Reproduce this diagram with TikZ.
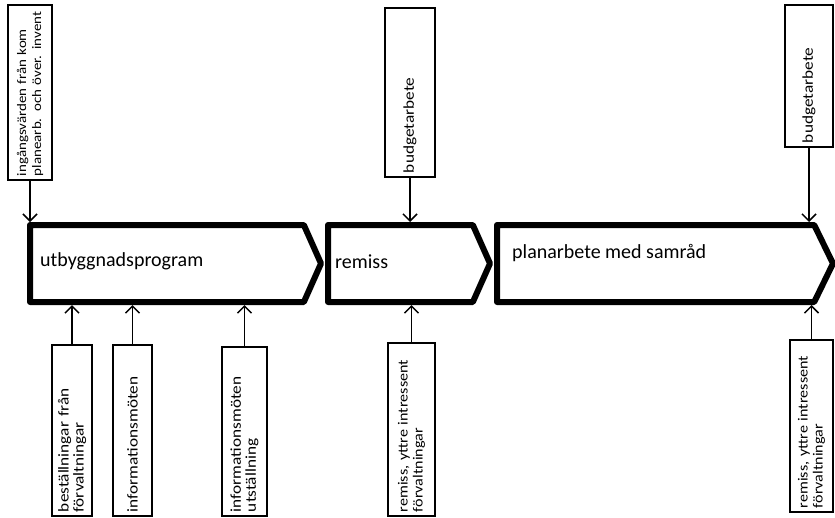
\documentclass[tikz,border=0pt]{standalone}
\usepackage{fontspec}
\setmainfont{Carlito}
\newfontfamily\boxfont{Carlito}[FakeStretch=1.15]
\usetikzlibrary{positioning}
\usetikzlibrary{shapes.symbols}
\usetikzlibrary{arrows.meta}
\tikzset{
  % thick chevron for one phase of the work
  phase/.style={
    draw,signal,signal to=east,anchor=west,
    line width=6pt,line join=round,
    minimum height=77pt,inner sep=0pt,
  },
  phaselabel/.style={font=\fontsize{20}{22}\selectfont,inner sep=0pt},
  % narrow box with its text turned upwards
  inbox/.style={
    draw,line width=2pt,rotate=90,
    inner sep=4pt,align=left,
    font=\boxfont\fontsize{15}{15}\selectfont,
  },
  smalltext/.style={font=\boxfont\fontsize{#1}{15}\selectfont},
  % thin connectors with open heads
  every edge/.append style={-{Straight Barb[length=7pt,width=14pt]},line width=1.5pt},
}

\begin{document}
\begin{tikzpicture}[x=1pt,y=-1pt]
  \useasboundingbox (0,0) rectangle (835,517);

  % the three phases
  \node[phase,minimum width=291pt,signal pointer angle=132] (utb) at (27,263.5) {};
  \node[phase,minimum width=162pt,signal pointer angle=132] (rem) at (325,263.5) {};
  \node[phase,minimum width=336pt,signal pointer angle=128] (plan) at (494,263.5) {};

  \node[phaselabel,right=13pt of utb.west,yshift=2pt] (utbtext) {utbyggnadsprogram};
  \node[phaselabel,right=10pt of rem.west,yshift=2pt] (remtext) {remiss};
  \node[phaselabel,right=18pt of plan.west,yshift=10pt] (plantext) {planarbete med samråd};

  % inputs from above
  \node[inbox,smalltext=13,minimum width=175pt,minimum height=44pt,text width=167pt] (ingang) at (30,92.5)
    {ingångsvärden från kom\\planearb. och över. invent};
  \node[inbox,minimum width=169pt,minimum height=50pt,text width=161pt] (budget) at (410,92.5)
    {budgetarbete};
  \node[inbox,minimum width=142pt,minimum height=48pt,text width=134pt] (budgetb) at (809,76)
    {budgetarbete};

  % inputs from below
  \node[inbox,minimum width=171pt,minimum height=40pt,text width=163pt] (bestall) at (72,430.5)
    {beställningar från\\förvaltningar};
  \node[inbox,minimum width=171pt,minimum height=39pt,text width=163pt] (info) at (132.5,430.5)
    {informationsmöten};
  \node[inbox,minimum width=169pt,minimum height=45pt,text width=161pt] (infoutst) at (244.5,431.5)
    {informationsmöten\\utställning};
  \node[inbox,smalltext=14,minimum width=173pt,minimum height=47pt,text width=165pt] (yttre) at (411.5,429.5)
    {remiss, yttre intressent\\förvaltningar};
  \node[inbox,smalltext=14,minimum width=172pt,minimum height=43pt,text width=164pt] (yttreb) at (811.5,426)
    {remiss, yttre intressent\\förvaltningar};

  \path
  (ingang.west) edge (ingang.west |- utb.north)
  (budget.west) edge (budget.west |- rem.north)
  (budgetb.west) edge (budgetb.west |- plan.north)
  (bestall.east) edge (bestall.east |- utb.south)
  (info.east) edge (info.east |- utb.south)
  (infoutst.east) edge (infoutst.east |- utb.south)
  (yttre.east) edge (yttre.east |- rem.south)
  (yttreb.east) edge (yttreb.east |- plan.south)
  ;
\end{tikzpicture}
\end{document}
